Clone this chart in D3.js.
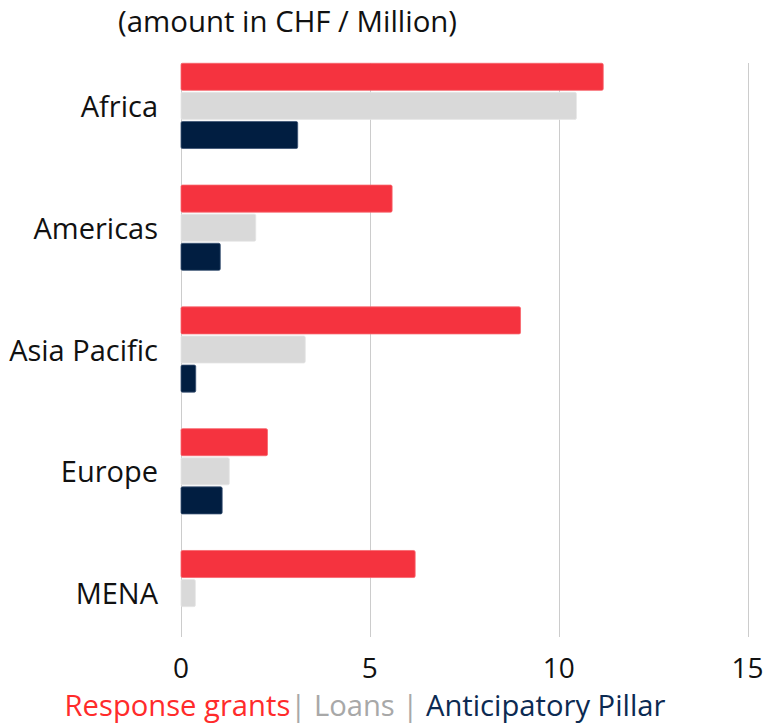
<!DOCTYPE html>
<html>
<head>
<meta charset="utf-8">
<script src="https://cdn.jsdelivr.net/npm/d3@7"></script>
<style>
  body { margin: 0; background: #fff; }
  text { font-family: "Open Sans", sans-serif; }
</style>
</head>
<body>
<script>
(function () {

    // small stand-in for d3-selection-multi's .attrs()
    d3.selection.prototype.attrs = function (map) {
        var sel = this;
        Object.keys(map).forEach(function (k) { sel.attr(k, map[k]); });
        return sel;
    };

    var w = 764;
    var h = 726;

    var regions = ["Africa", "Americas", "Asia Pacific", "Europe", "MENA"];
    var seriesNames = ["Response grants", "Loans", "Anticipatory Pillar"];
    var responseGrants = [11.18, 5.59, 8.99, 2.29, 6.20];
    var loans = [10.47, 1.98, 3.29, 1.28, 0.38];
    var anticipatory = [3.09, 1.04, 0.39, 1.09, 0];
    var ticks = [0, 5, 10, 15];

    var barColors = ["#f5333f", "#d9d9d9", "#011e41"];
    var barStrokes = ["#f7646c", "#e6e6e6", "#3a5272"];
    var legendColors = ["#ff2b2b", "#a8a8a8", "#0c2a52"];

    var rows = [];
    regions.forEach(function (r, i) {
        [responseGrants, loans, anticipatory].forEach(function (arr, j) {
            rows.push({ region: r, series: seriesNames[j], value: arr[i], k: j });
        });
    });

    var svg = d3.select("body").append("svg")
        .attr("width", w)
        .attr("height", h);

    var x = d3.scaleLinear().domain([0, 15]).range([181, 747.5]);
    var y = d3.scaleBand().domain(regions).range([45, 654])
        .paddingInner(0.3).paddingOuter(0.15);
    var ys = d3.scaleBand().domain(seriesNames).range([0, y.bandwidth()])
        .paddingInner(0.07);

    // grid lines
    svg.append("g").selectAll("line")
        .data(ticks)
        .enter()
        .append("line")
        .attrs({
            x1: function (d) { return Math.round(x(d)) + 0.5; },
            x2: function (d) { return Math.round(x(d)) + 0.5; },
            y1: 63,
            y2: 637,
            stroke: "#cccccc",
            "stroke-width": 1
        });

    // bars
    svg.append("g").selectAll("rect")
        .data(rows.filter(function (d) { return d.value > 0; }))
        .enter()
        .append("rect")
        .attrs({
            x: x(0),
            y: function (d) { return y(d.region) + ys(d.series); },
            width: function (d) { return x(d.value) - x(0); },
            height: ys.bandwidth(),
            rx: 1.5,
            fill: function (d) { return barColors[d.k]; },
            stroke: function (d) { return barStrokes[d.k]; },
            "stroke-width": 0.8
        });

    // category labels
    svg.append("g").selectAll("text")
        .data(regions)
        .enter()
        .append("text")
        .text(function (d) { return d; })
        .attrs({
            x: 158,
            y: function (d) { return y(d) + y.bandwidth() / 2 + 1; },
            dy: "0.35em",
            "text-anchor": "end",
            "font-size": 29,
            fill: "#111111"
        });

    // x tick labels
    svg.append("g").selectAll("text")
        .data(ticks)
        .enter()
        .append("text")
        .text(function (d) { return d; })
        .attrs({
            x: function (d) { return x(d); },
            y: 668,
            dy: "0.35em",
            "text-anchor": "middle",
            "font-size": 28,
            fill: "#111111"
        });

    // title
    svg.append("text")
        .text("(amount in CHF / Million)")
        .attrs({
            x: 118,
            y: 22,
            dy: "0.35em",
            "font-size": 29.4,
            fill: "#111111"
        });

    // legend
    var legend = svg.append("text")
        .attrs({
            x: 365,
            y: 706,
            dy: "0.35em",
            "text-anchor": "middle",
            "font-size": 29.2
        });
    legend.append("tspan").text("Response grants").attr("fill", legendColors[0]);
    legend.append("tspan").text("| Loans | ").attr("fill", legendColors[1]);
    legend.append("tspan").text("Anticipatory Pillar").attr("fill", legendColors[2]);
})();
</script>
</body>
</html>
